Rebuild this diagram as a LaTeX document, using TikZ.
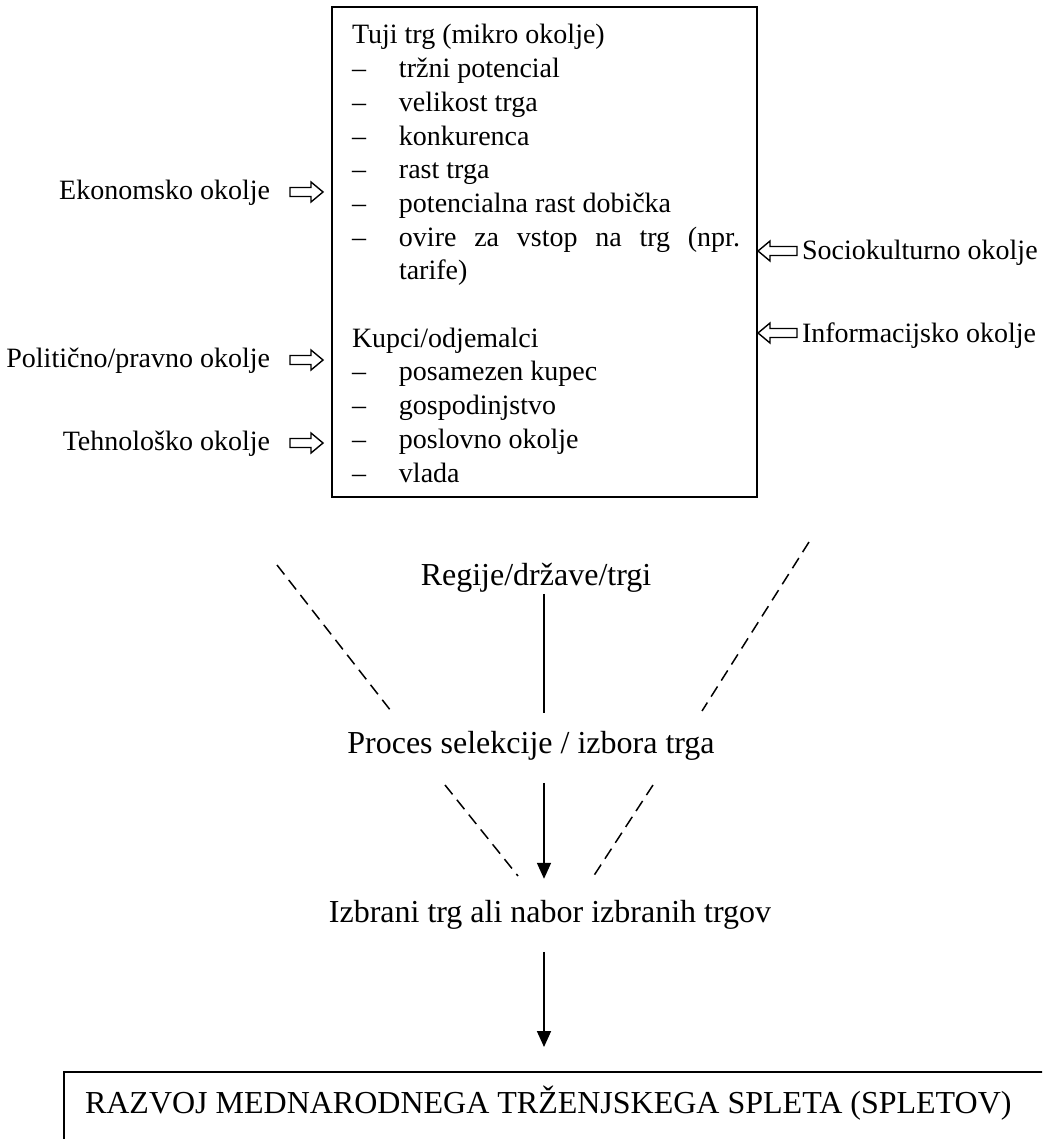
\documentclass[tikz,border=0pt]{standalone}
\usepackage{fontspec}
\setmainfont{Liberation Serif}
\usetikzlibrary{arrows.meta,calc}
\newcommand{\listdash}{\makebox[47pt][l]{–}}

\begin{document}
\begin{tikzpicture}[x=1pt,y=-1pt,
  every node/.style={inner sep=0pt, outer sep=0pt},
  sidelabel/.style={font=\fontsize{28}{32}\selectfont},
  midlabel/.style={font=\fontsize{32}{36}\selectfont, inner sep=2pt},
  frame/.style={draw, line width=2pt},
  flow/.style={line width=1.7pt},
  flowarrow/.style={flow, -{Triangle[length=16pt,width=14pt]}},
  guide/.style={line width=1.5pt, dash pattern=on 12pt off 7pt},
  pics/blockarrow/.style={code={
    \draw[line width=1.4pt, line join=miter]
      (0,-4.5) -- ({#1-12},-4.5) -- ({#1-12},-10) -- (#1,0)
      -- ({#1-12},10) -- ({#1-12},4.5) -- (0,4.5) -- cycle;}}
]
\useasboundingbox (0,0) rectangle (1042,1139);
\clip (0,0) rectangle (1042,1139);

% micro-environment box
\node[frame, anchor=north west, minimum width=425pt, minimum height=490pt] (marketbox) at (332,7) {};
\node[anchor=base west] (marketlist) at (352,44) {\begin{minipage}[t]{400pt}\fontsize{28}{33.7}\selectfont\setlength{\parindent}{0pt}%
Tuji trg (mikro okolje)\\
\listdash tržni potencial\\
\listdash velikost trga\\
\listdash konkurenca\\
\listdash rast trga\\
\listdash potencialna rast dobička\\
\listdash \makebox[341pt][s]{ovire za vstop na trg (npr.}\\
\hspace*{47pt}tarife)\\
\mbox{}\\
Kupci/odjemalci\\
\listdash posamezen kupec\\
\listdash gospodinjstvo\\
\listdash poslovno okolje\\
\listdash vlada
\end{minipage}};

% macro-environment influences
\node[sidelabel, anchor=base east] (econ) at (270,200) {Ekonomsko okolje};
\node[sidelabel, anchor=base east] (polit) at (270,367) {Politično/pravno okolje};
\node[sidelabel, anchor=base east] (tech) at (270,450) {Tehnološko okolje};
\node[sidelabel, anchor=base west] (socio) at (802,260) {Sociokulturno okolje};
\node[sidelabel, anchor=base west] (info) at (802,342) {Informacijsko okolje};

\pic at ($(econ.base east)+(20,-8)$) {blockarrow=33};
\pic at ($(polit.base east)+(20,-7)$) {blockarrow=33};
\pic at ($(tech.base east)+(20,-7)$) {blockarrow=33};
\pic[rotate=180] at ($(socio.base west)+(-5,-9)$) {blockarrow=39};
\pic[rotate=180] at ($(info.base west)+(-5,-9)$) {blockarrow=39};

% selection funnel
\coordinate (axis) at (544,0);
\node[midlabel, anchor=base] (regions) at (536,585) {Regije/države/trgi};
\node[midlabel, anchor=base] (selection) at (531,753) {Proces selekcije / izbora trga};
\node[midlabel, anchor=base] (chosen) at (550,922) {Izbrani trg ali nabor izbranih trgov};

\draw[flow, shorten >=16pt] (regions.south -| axis) -- (selection.north -| axis);
\draw[flowarrow, shorten <=21pt, shorten >=19pt] (selection.south -| axis) -- (chosen.north -| axis);

\coordinate (ulA) at (277,565);
\coordinate (ulB) at (391,711);
\coordinate (urA) at (809,542);
\coordinate (urB) at (702,711);
\coordinate (llA) at (445,785);
\coordinate (llB) at (518,876);
\coordinate (lrA) at (653,785);
\coordinate (lrB) at (593,877);
\draw[guide] (ulA) -- (ulB);
\draw[guide] (urA) -- (urB);
\draw[guide] (llA) -- (llB);
\draw[guide] (lrA) -- (lrB);

% marketing mix development
\node[frame, anchor=north west, minimum width=1100pt, minimum height=150pt] (devbox) at (64,1072) {};
\node[anchor=base west, font=\fontsize{32}{36}\selectfont] (devtitle) at (85,1113) {RAZVOJ MEDNARODNEGA TRŽENJSKEGA SPLETA (SPLETOV)};

\draw[flowarrow, shorten <=21pt, shorten >=25pt] (chosen.south -| axis) -- (devbox.north -| axis);
\end{tikzpicture}
\end{document}
